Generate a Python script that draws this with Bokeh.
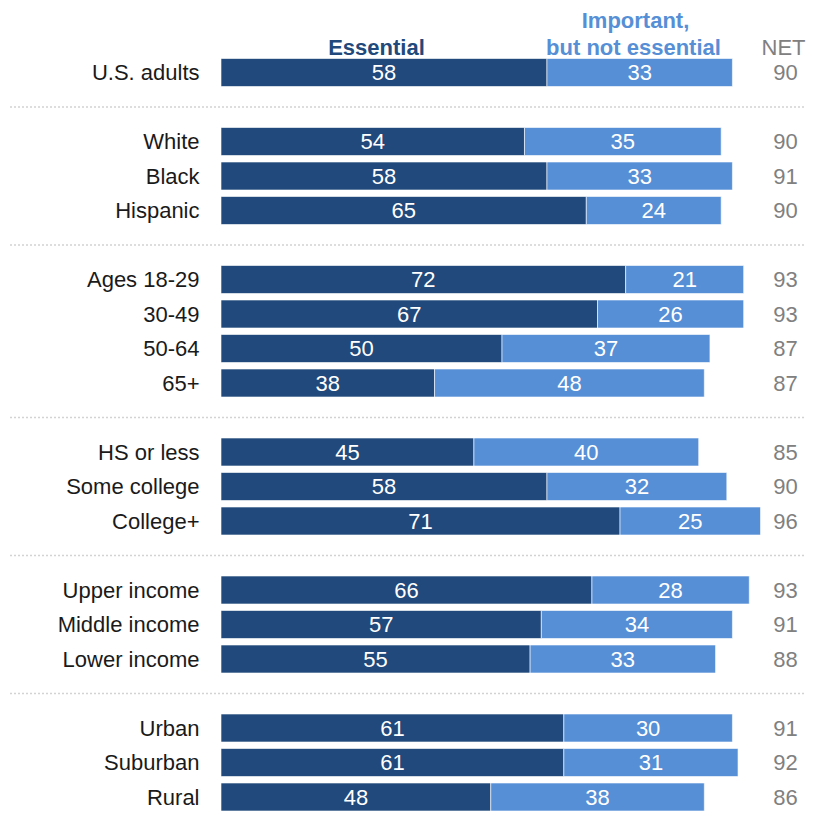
from bokeh.plotting import figure
from bokeh.models import Range1d, ColumnDataSource
from bokeh.embed import file_html
from bokeh.resources import INLINE
from bokeh.core.properties import value

# ---- data ----
categories = ["U.S. adults", "White", "Black", "Hispanic",
              "Ages 18-29", "30-49", "50-64", "65+",
              "HS or less", "Some college", "College+",
              "Upper income", "Middle income", "Lower income",
              "Urban", "Suburban", "Rural"]
groups = [0, 1, 1, 1, 2, 2, 2, 2, 3, 3, 3, 4, 4, 4, 5, 5, 5]
essential = [58, 54, 58, 65, 72, 67, 50, 38, 45, 58, 71, 66, 57, 55, 61, 61, 48]
important = [33, 35, 33, 24, 21, 26, 37, 48, 40, 32, 25, 28, 34, 33, 30, 31, 38]
net = [90, 90, 91, 90, 93, 93, 87, 87, 85, 90, 96, 93, 91, 88, 91, 92, 86]
series_labels = ["Essential", "Important,\nbut not essential", "NET"]

# ---- styling ----
DARK = "#21497b"
LIGHT = "#568fd6"
GRAY = "#808080"
FONT = "Liberation Sans"

W, H = 806, 815
ROW0, ROWSTEP = 72.0, 34.5   # y (px) of first row and row spacing
X0, XSTEP = 220.5, 5.62      # x (px) of value 0 and px per unit

def py(y_px):
    return (y_px - ROW0) / ROWSTEP

def px(x_px):
    return (x_px - X0) / XSTEP

pos = [i + g for i, g in enumerate(groups)]
total = [e + m for e, m in zip(essential, important)]

src = ColumnDataSource(dict(
    cat=categories, pos=pos, ess=essential, imp=important, net=net,
    total=total,
    ess_mid=[e / 2 for e in essential],
    imp_mid=[e + m / 2 for e, m in zip(essential, important)],
    ess_txt=[str(v) for v in essential],
    imp_txt=[str(v) for v in important],
    net_txt=[str(v) for v in net],
))

p = figure(width=W, height=H,
           x_range=Range1d(px(0), px(W)),
           y_range=Range1d(py(H), py(0)),
           output_backend="svg", toolbar_location=None, min_border=0)
p.axis.visible = False
p.grid.visible = False
p.outline_line_color = None
p.background_fill_color = "white"

# separators between groups
sep_pos = []
for g in range(1, max(groups) + 1):
    first = min(pp for pp, gg in zip(pos, groups) if gg == g)
    sep_pos.append(first - 1)
p.segment(x0=[px(10)] * len(sep_pos), x1=[px(W)] * len(sep_pos),
          y0=sep_pos, y1=sep_pos, line_color="#a6a6a6",
          line_width=1.5, line_dash="1 3")

bh = 28 / ROWSTEP
p.hbar(y="pos", left=0, right="ess", height=bh, source=src,
       fill_color=DARK, line_color="white", line_width=0.6)
p.hbar(y="pos", left="ess", right="total", height=bh, source=src,
       fill_color=LIGHT, line_color="white", line_width=0.6)

# category labels
p.text(x=px(199), y="pos", text="cat", source=src, text_align="right",
       text_baseline="middle", text_font=value(FONT), text_font_size="22px",
       text_color="#1a1a1a")
# values in bars
p.text(x="ess_mid", y="pos", text="ess_txt", source=src, text_align="center",
       text_baseline="middle", text_font=value(FONT), text_font_size="22px",
       text_color="white")
p.text(x="imp_mid", y="pos", text="imp_txt", source=src, text_align="center",
       text_baseline="middle", text_font=value(FONT), text_font_size="22px",
       text_color="white")
# NET
p.text(x=px(785), y="pos", text="net_txt", source=src, text_align="center",
       text_baseline="middle", text_font=value(FONT), text_font_size="22px",
       text_color=GRAY)

# headers
p.text(x=[px(376)], y=[py(47)], text=[series_labels[0]], text_align="center",
       text_baseline="middle", text_font=value(FONT), text_font_size="22px",
       text_font_style="bold", text_color=DARK)
hdr2 = series_labels[1].split("\n")
p.text(x=[px(635), px(633)], y=[py(20), py(47)], text=hdr2,
       text_align="center", text_baseline="middle", text_font=value(FONT),
       text_font_size="22px", text_font_style="bold", text_color=LIGHT)
p.text(x=[px(783)], y=[py(47)], text=[series_labels[2]], text_align="center",
       text_baseline="middle", text_font=value(FONT), text_font_size="22px",
       text_color=GRAY)

open("out.html", "w").write(file_html(p, INLINE))
